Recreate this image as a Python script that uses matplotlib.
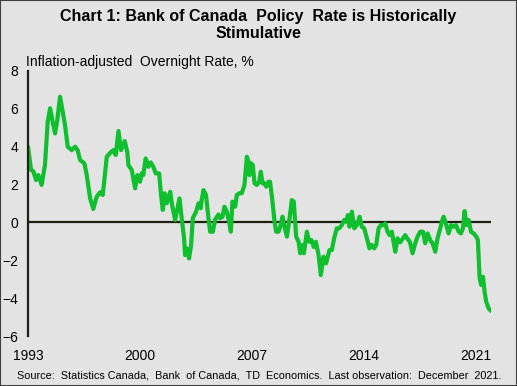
import matplotlib
matplotlib.use("Agg")
import matplotlib.pyplot as plt
from matplotlib.patches import Rectangle

plt.rcParams["font.family"] = ["Liberation Sans", "DejaVu Sans"]

years = [
    1993.00, 1993.19, 1993.33, 1993.50, 1993.65, 1993.85, 1994.06, 1994.23, 1994.38, 1994.52,
    1994.69, 1994.83, 1995.00, 1995.17, 1995.31, 1995.48, 1995.73, 1995.94, 1996.10, 1996.25,
    1996.52, 1996.67, 1996.88, 1997.08, 1997.29, 1997.50, 1997.67, 1997.92, 1998.19, 1998.33,
    1998.48, 1998.65, 1998.81, 1999.04, 1999.20, 1999.27, 1999.48, 1999.69, 1999.83, 2000.00,
    2000.10, 2000.20, 2000.35, 2000.52, 2000.67, 2000.83, 2000.98, 2001.19, 2001.31, 2001.42,
    2001.52, 2001.67, 2001.88, 2002.00, 2002.19, 2002.46, 2002.60, 2002.75, 2002.81, 2002.92,
    2003.06, 2003.19, 2003.29, 2003.50, 2003.65, 2003.79, 2003.85, 2003.96, 2004.12, 2004.27,
    2004.38, 2004.54, 2004.69, 2004.90, 2005.00, 2005.15, 2005.27, 2005.42, 2005.56, 2005.67,
    2005.77, 2005.94, 2006.04, 2006.19, 2006.35, 2006.52, 2006.67, 2006.77, 2006.83, 2006.94,
    2007.04, 2007.15, 2007.29, 2007.44, 2007.54, 2007.65, 2007.77, 2007.88, 2008.02, 2008.12,
    2008.27, 2008.40, 2008.50, 2008.65, 2008.75, 2008.90, 2009.00, 2009.17, 2009.31, 2009.48,
    2009.60, 2009.75, 2009.90, 2010.00, 2010.15, 2010.23, 2010.42, 2010.56, 2010.70, 2010.85,
    2010.98, 2011.15, 2011.29, 2011.46, 2011.62, 2011.83, 2011.98, 2012.12, 2012.29, 2012.44,
    2012.60, 2012.75, 2012.88, 2012.98, 2013.08, 2013.23, 2013.38, 2013.54, 2013.71, 2013.85,
    2014.00, 2014.17, 2014.33, 2014.48, 2014.62, 2014.75, 2014.90, 2015.04, 2015.21, 2015.31,
    2015.46, 2015.58, 2015.73, 2015.83, 2015.94, 2016.08, 2016.25, 2016.42, 2016.56, 2016.71,
    2016.85, 2017.02, 2017.19, 2017.33, 2017.50, 2017.67, 2017.81, 2017.96, 2018.12, 2018.27,
    2018.44, 2018.58, 2018.75, 2018.85, 2018.96, 2019.10, 2019.27, 2019.42, 2019.58, 2019.73,
    2019.90, 2020.04, 2020.17, 2020.27, 2020.38, 2020.52, 2020.67, 2020.83, 2021.00, 2021.10,
    2021.21, 2021.31, 2021.42, 2021.52, 2021.62, 2021.77, 2021.92,
]
real_rate = [
    4.00, 2.77, 2.71, 2.24, 2.50, 1.98, 3.03, 5.32, 6.03, 5.41,
    4.70, 5.41, 6.64, 5.85, 5.15, 4.00, 3.82, 4.00, 3.82, 3.30,
    3.12, 2.50, 1.27, 0.71, 1.36, 1.59, 1.45, 3.47, 3.73, 3.82,
    3.56, 4.83, 3.82, 4.30, 3.73, 3.03, 2.77, 1.80, 2.50, 2.15,
    2.59, 2.50, 3.38, 2.94, 3.17, 2.94, 2.59, 2.59, 1.45, 0.66,
    1.54, 1.01, 1.62, 0.92, 0.13, 1.27, 0.22, -0.84, -1.72, -1.37,
    -1.90, -1.19, 0.22, 0.57, 1.01, 0.75, 1.18, 1.71, 1.45, 0.22,
    -0.49, -0.49, 0.15, 0.42, 0.22, 0.30, 0.83, 0.57, 0.04, -0.49,
    1.10, 0.83, 1.45, 1.54, 1.54, 1.98, 3.47, 3.21, 2.50, 3.12,
    3.03, 2.07, 1.98, 2.15, 2.68, 2.07, 2.07, 1.89, 2.15, 2.15,
    1.10, 0.04, -0.49, -0.49, -0.23, 0.30, -0.14, -0.75, 0.04, 1.18,
    1.10, -0.75, -1.02, -1.63, -1.19, -1.63, -0.49, -1.02, -0.93, -1.30,
    -1.02, -1.72, -2.78, -1.81, -2.16, -1.46, -1.46, -0.84, -0.31, -0.31,
    -0.14, 0.13, 0.04, 0.39, -0.23, 0.57, -0.31, -0.14, 0.30, -0.23,
    -0.31, -0.84, -1.37, -1.19, -1.37, -1.19, -0.31, -0.14, -0.14, -0.05,
    -0.49, -0.67, -0.49, -1.02, -1.55, -0.84, -1.05, -0.84, -0.67, -0.88,
    -1.02, -1.63, -1.10, -0.75, -0.49, -0.49, -1.10, -0.58, -0.93, -1.10,
    -1.55, -0.84, -0.31, 0.04, 0.30, -0.05, -0.58, -0.14, -0.23, -0.14,
    -0.49, -0.58, -0.31, 0.60, -0.14, 0.13, -0.49, -0.58, -0.75, -0.93,
    -2.95, -3.31, -2.87, -3.66, -4.19, -4.54, -4.68,
]

x_ticks = [1993, 2000, 2007, 2014, 2021]
y_ticks = [-6, -4, -2, 0, 2, 4, 6, 8]

fondo = "#e3e3e3"
verde = "#10bf2e"
oscuro = "#1f1f14"

fig = plt.figure(figsize=(5.17, 3.86), dpi=100, facecolor=fondo)
ax = fig.add_axes([28 / 517, 50 / 386, 463 / 517, 265 / 386])
ax.set_facecolor(fondo)

ax.axhline(0, color=oscuro, linewidth=1.6, zorder=1)
ax.plot(years, real_rate, color=verde, linewidth=3.0, solid_joinstyle="round",
        solid_capstyle="round", zorder=2)

ax.set_xlim(1993, 2021.92)
ax.set_ylim(-6, 8)
ax.set_xticks(x_ticks)
ax.set_yticks(y_ticks)
ax.tick_params(axis="both", length=0, labelsize=10, colors="black")
ax.tick_params(axis="x", pad=9)
ax.tick_params(axis="y", pad=7)

for lado in ["top", "right", "bottom"]:
    ax.spines[lado].set_visible(False)
ax.spines["left"].set_color(oscuro)
ax.spines["left"].set_linewidth(1.6)

fig.text(0.5, 1 - 25 / 386, "Chart 1: Bank of Canada  Policy  Rate is Historically\nStimulative",
         ha="center", va="center", fontsize=11.5, fontweight="bold", linespacing=1.2)
fig.text(26 / 517, 1 - 62 / 386, "Inflation-adjusted  Overnight Rate, %",
         ha="left", va="center", fontsize=10)
fig.text(17 / 517, 1 - 375 / 386,
         "Source:  Statistics Canada,  Bank  of Canada,  TD  Economics.  Last observation:  December  2021.",
         ha="left", va="center", fontsize=7.8)

# marco exterior
fig.patches.append(Rectangle((0, 0), 1, 1, transform=fig.transFigure, fill=False,
                             edgecolor="#404040", linewidth=1.5))

fig.savefig("out.png", dpi=100, facecolor=fondo)
